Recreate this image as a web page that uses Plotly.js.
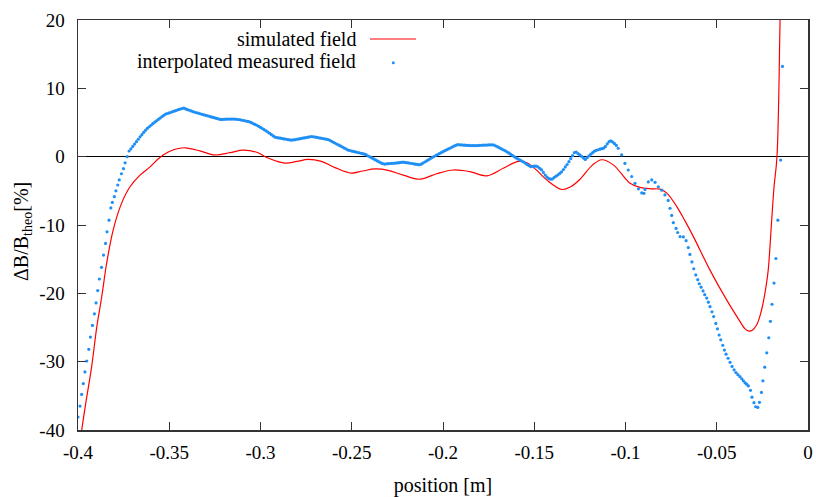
<!DOCTYPE html>
<html>
<head>
<meta charset="utf-8">
<script src="https://cdn.plot.ly/plotly-3.0.1.min.js"></script>
<style>
  html, body { margin: 0; padding: 0; background: #fff; }
  #chart { width: 816px; height: 497px; }
</style>
</head>
<body>
<div id="chart"></div>
<script>
// Simulated field deviation along the axis (position in m, deviation in %)
const simPos = [
  -0.3985, -0.3960, -0.3925, -0.3897, -0.3870, -0.3843, -0.3807, -0.3761, -0.3715, -0.3660,
  -0.3605, -0.3555, -0.3500, -0.3450, -0.3410, -0.3332, -0.3249, -0.3167, -0.3094, -0.3021,
  -0.2959, -0.2866, -0.2800, -0.2740, -0.2666, -0.2592, -0.2503, -0.2440, -0.2373, -0.2300,
  -0.2218, -0.2126, -0.2035, -0.1944, -0.1852, -0.1761, -0.1670, -0.1588, -0.1540, -0.1490,
  -0.1432, -0.1349, -0.1300, -0.1249, -0.1180, -0.1130, -0.1067, -0.0975, -0.0921, -0.0860,
  -0.0811, -0.0775, -0.0719, -0.0674, -0.0628, -0.0537, -0.0445, -0.0373, -0.0345, -0.0327,
  -0.0305, -0.0281, -0.0260, -0.0245, -0.0230, -0.0218, -0.0199, -0.0186, -0.0170, -0.0153,
  -0.0148
];
const simDelta = [
  -41.0, -36.5, -30.7, -24.9, -20.5, -15.6, -10.7, -6.8, -4.4, -2.7,
  -1.5, -0.2, 0.75, 1.2, 1.3, 0.85, 0.25, 0.6, 0.95, 0.65,
  -0.2, -0.95, -0.7, -0.4, -0.7, -1.6, -2.4, -2.1, -1.8, -2.0,
  -2.7, -3.3, -2.5, -1.95, -2.2, -2.8, -1.7, -0.7, -0.9, -1.9,
  -3.4, -4.8, -4.4, -3.3, -1.2, -0.45, -1.2, -3.9, -4.5, -4.7,
  -4.75, -5.3, -7.3, -9.4, -11.7, -16.6, -21.0, -24.1, -25.2, -25.5,
  -25.4, -24.6, -23.0, -21.3, -19.0, -16.6, -9.3, -4.4, 0.0, 20.0,
  26.0
];

// Interpolated measured field deviation (position in m, deviation in %)
const measPos = [
  // rising edge
  -0.4000, -0.3989, -0.3980, -0.3971, -0.3962, -0.3952, -0.3941, -0.3932, -0.3921, -0.3910,
  -0.3901, -0.3892, -0.3883, -0.3871, -0.3860, -0.3849, -0.3841, -0.3830, -0.3820, -0.3812,
  -0.3801, -0.3792, -0.3782, -0.3774, -0.3762, -0.3751, -0.3742, -0.3731, -0.3720,
  // plateau, 1 mm steps
  -0.371, -0.370, -0.369, -0.368, -0.367, -0.366, -0.365, -0.364, -0.363, -0.362,
  -0.361, -0.360, -0.359, -0.358, -0.357, -0.356, -0.355, -0.354, -0.353, -0.352,
  -0.351, -0.350, -0.349, -0.348, -0.347, -0.346, -0.345, -0.344, -0.343, -0.342,
  -0.341, -0.340, -0.339, -0.338, -0.337, -0.336, -0.335, -0.334, -0.333, -0.332,
  -0.331, -0.330, -0.329, -0.328, -0.327, -0.326, -0.325, -0.324, -0.323, -0.322,
  -0.321, -0.320, -0.319, -0.318, -0.317, -0.316, -0.315, -0.314, -0.313, -0.312,
  -0.311, -0.310, -0.309, -0.308, -0.307, -0.306, -0.305, -0.304, -0.303, -0.302,
  -0.301, -0.300, -0.299, -0.298, -0.297, -0.296, -0.295, -0.294, -0.293, -0.292,
  -0.291, -0.290, -0.289, -0.288, -0.287, -0.286, -0.285, -0.284, -0.283, -0.282,
  -0.281, -0.280, -0.279, -0.278, -0.277, -0.276, -0.275, -0.274, -0.273, -0.272,
  -0.271, -0.270, -0.269, -0.268, -0.267, -0.266, -0.265, -0.264, -0.263, -0.262,
  -0.261, -0.260, -0.259, -0.258, -0.257, -0.256, -0.255, -0.254, -0.253, -0.252,
  -0.251, -0.250, -0.249, -0.248, -0.247, -0.246, -0.245, -0.244, -0.243, -0.242,
  -0.241, -0.240, -0.239, -0.238, -0.237, -0.236, -0.235, -0.234, -0.233, -0.232,
  -0.231, -0.230, -0.229, -0.228, -0.227, -0.226, -0.225, -0.224, -0.223, -0.222,
  -0.221, -0.220, -0.219, -0.218, -0.217, -0.216, -0.215, -0.214, -0.213, -0.212,
  -0.211, -0.210, -0.209, -0.208, -0.207, -0.206, -0.205, -0.204, -0.203, -0.202,
  -0.201, -0.200, -0.199, -0.198, -0.197, -0.196, -0.195, -0.194, -0.193, -0.192,
  -0.191, -0.190, -0.189, -0.188, -0.187, -0.186, -0.185, -0.184, -0.183, -0.182,
  -0.181, -0.180, -0.179, -0.178, -0.177, -0.176, -0.175, -0.174, -0.173, -0.172,
  -0.171, -0.170, -0.169, -0.168, -0.167, -0.166, -0.165, -0.164, -0.163, -0.162,
  -0.161, -0.160, -0.159, -0.158, -0.157, -0.156, -0.155, -0.154, -0.153, -0.152,
  -0.151, -0.150, -0.149, -0.148, -0.147, -0.146, -0.145, -0.144, -0.143, -0.142,
  -0.141, -0.140, -0.139, -0.138, -0.137, -0.136, -0.135, -0.134, -0.133, -0.132,
  -0.131, -0.130, -0.129, -0.128, -0.127, -0.126, -0.125, -0.124, -0.123, -0.122,
  -0.121, -0.120, -0.119, -0.118, -0.117, -0.116, -0.115, -0.114, -0.113, -0.112,
  -0.111, -0.110, -0.109, -0.108, -0.107, -0.106, -0.105,
  // falling section towards the exit
  -0.1040, -0.1021, -0.1003, -0.0985, -0.0966, -0.0948, -0.0929, -0.0911, -0.0899, -0.0893,
  -0.0875, -0.0856, -0.0838, -0.0820, -0.0801, -0.0784, -0.0766, -0.0756, -0.0747, -0.0738,
  -0.0723, -0.0714, -0.0701, -0.0683, -0.0668, -0.0656, -0.0647, -0.0636, -0.0626, -0.0615,
  -0.0604, -0.0596, -0.0586, -0.0575, -0.0566, -0.0555, -0.0546, -0.0537, -0.0526, -0.0517,
  -0.0505, -0.0496, -0.0487, -0.0478, -0.0467, -0.0458, -0.0449, -0.0438, -0.0427, -0.0416,
  -0.0405, -0.0395, -0.0384, -0.0373, -0.0363, -0.0354, -0.0345, -0.0336, -0.0327, -0.0315,
  -0.0307, -0.0296, -0.0287, -0.0275, -0.0266, -0.0255, -0.0247, -0.0237, -0.0226, -0.0215,
  -0.0206, -0.0197, -0.0186, -0.0176, -0.0165, -0.0150, -0.0140
];
const measDelta = [
  -38.1, -36.5, -34.8, -33.2, -31.5, -29.9, -28.2, -26.4, -24.7, -23.0,
  -21.4, -19.6, -17.9, -16.2, -14.4, -12.7, -11.0, -9.3, -7.5, -6.7,
  -5.85, -5.0, -4.15, -3.4, -2.5, -1.75, -0.9, 0.0, 0.83,

  1.15, 1.5, 1.85, 2.2, 2.55, 2.9, 3.22, 3.55, 3.85, 4.15,
  4.38, 4.6, 4.83, 5.05, 5.25, 5.45, 5.65, 5.85, 6.05, 6.23,
  6.32, 6.4, 6.5, 6.6, 6.69, 6.78, 6.87, 6.96, 7.05, 7.1,
  6.98, 6.88, 6.79, 6.7, 6.6, 6.5, 6.43, 6.37, 6.28, 6.2,
  6.12, 6.05, 5.97, 5.9, 5.82, 5.75, 5.67, 5.6, 5.52, 5.45,
  5.46, 5.47, 5.49, 5.5, 5.5, 5.5, 5.5, 5.5, 5.47, 5.44,
  5.39, 5.33, 5.28, 5.22, 5.16, 5.1, 4.98, 4.85, 4.72, 4.6,
  4.44, 4.28, 4.12, 3.95, 3.78, 3.6, 3.41, 3.22, 3.03, 2.85,
  2.8, 2.75, 2.7, 2.65, 2.6, 2.55, 2.5, 2.45, 2.43, 2.45,
  2.5, 2.55, 2.6, 2.65, 2.7, 2.75, 2.8, 2.85, 2.9, 2.95,
  2.9, 2.86, 2.81, 2.76, 2.71, 2.66, 2.61, 2.56, 2.5, 2.39,
  2.25, 2.1, 1.96, 1.82, 1.68, 1.54, 1.4, 1.25, 1.11, 0.97,
  0.9, 0.82, 0.76, 0.7, 0.63, 0.57, 0.5, 0.44, 0.36, 0.25,
  0.1, -0.04, -0.19, -0.33, -0.48, -0.62, -0.77, -0.91, -1.02, -1.08,
  -1.05, -1.03, -1.0, -0.98, -0.96, -0.94, -0.91, -0.88, -0.84, -0.8,
  -0.84, -0.88, -0.92, -0.96, -1.0, -1.05, -1.1, -1.14, -1.18, -1.1,
  -0.94, -0.78, -0.62, -0.46, -0.3, -0.14, 0.02, 0.17, 0.31, 0.45,
  0.59, 0.73, 0.87, 1.0, 1.14, 1.27, 1.4, 1.54, 1.66, 1.75,
  1.74, 1.72, 1.7, 1.68, 1.66, 1.65, 1.63, 1.62, 1.62, 1.62,
  1.63, 1.65, 1.67, 1.68, 1.69, 1.7, 1.72, 1.73, 1.74, 1.7,
  1.56, 1.42, 1.28, 1.15, 1.01, 0.87, 0.71, 0.55, 0.37, 0.19,
  0.0, -0.18, -0.33, -0.47, -0.61, -0.75, -0.94, -1.13, -1.3, -1.45,
  -1.42, -1.39, -1.37, -1.5, -1.7, -1.93, -2.3, -2.7, -3.0, -3.22,
  -3.3, -3.25, -3.03, -2.85, -2.65, -2.45, -2.22, -1.88, -1.5, -1.15,
  -0.73, -0.3, 0.14, 0.6, 0.68, 0.44, 0.25, 0.03, -0.2, -0.4,
  -0.15, 0.13, 0.37, 0.59, 0.8, 0.93, 1.01, 1.09, 1.17, 1.24,
  1.5, 1.88, 2.2, 2.32, 2.13, 1.9, 1.64,

  1.23, 0.25, -0.97, -1.95, -2.9, -3.9, -4.7, -5.3, -5.36, -4.8,
  -3.7, -3.4, -3.75, -4.4, -4.9, -5.6, -6.4, -7.55, -8.6, -9.66,
  -10.5, -11.1, -11.7, -11.75, -12.3, -13.3, -14.3, -15.4, -16.4, -17.3,
  -18.0, -18.6, -19.1, -19.65, -20.2, -20.7, -21.3, -21.95, -22.7, -23.4,
  -24.4, -25.2, -26.1, -26.8, -27.6, -28.3, -28.9, -29.5, -30.1, -30.7,
  -31.2, -31.6, -31.9, -32.2, -32.5, -32.8, -33.1, -33.3, -33.55, -34.2,
  -35.2, -36.0, -36.6, -36.7, -35.95, -34.5, -32.8, -30.8, -28.7, -26.5,
  -24.1, -21.6, -18.5, -14.9, -9.3, -0.5, 13.2
];

// Axis ticks
const xTickVals = [-0.4, -0.35, -0.3, -0.25, -0.2, -0.15, -0.1, -0.05, 0];
const xTickText = ['-0.4', '-0.35', '-0.3', '-0.25', '-0.2', '-0.15', '-0.1', '-0.05', '0'];
const yTickVals = [-40, -30, -20, -10, 0, 10, 20];
const yTickText = ['-40', '-30', '-20', '-10', '0', '10', '20'];

const seriesNames = ['simulated field', 'interpolated measured field'];

const FONT = 'Liberation Serif, Times New Roman, serif';
const RED = '#ff0000';
const BLUE = '#1e8ff5';
const FRAME = '#333333';

const traces = [
  {
    x: simPos, y: simDelta, type: 'scatter', mode: 'lines', name: seriesNames[0],
    line: { color: RED, width: 1.2, shape: 'spline', smoothing: 1.0 },
    hoverinfo: 'skip'
  },
  {
    x: measPos, y: measDelta, type: 'scatter', mode: 'markers', name: seriesNames[1],
    marker: { color: BLUE, size: 3.2, symbol: 'circle', line: { width: 0 } },
    hoverinfo: 'skip'
  }
];

// Plot area in pixels: left 78, right 808, top 20, bottom 430
const L = 78, R = 808, T = 20, B = 430;
const px = v => (v - L) / (R - L);
const py = v => (B - v) / (B - T);

const layout = {
  width: 816, height: 497,
  margin: { l: L, r: 816 - R, t: T, b: 497 - B },
  paper_bgcolor: '#ffffff', plot_bgcolor: '#ffffff',
  showlegend: false,
  font: { family: FONT, size: 19, color: '#000' },
  xaxis: {
    range: [-0.4, 0], tickvals: xTickVals, ticktext: xTickText,
    ticks: 'inside', ticklen: 8, tickwidth: 1, tickcolor: FRAME,
    showline: true, linecolor: FRAME, linewidth: 1.5, mirror: 'allticks',
    showgrid: false, zeroline: false, ticklabelstandoff: 5,
    tickfont: { family: FONT, size: 19, color: '#000' },
    title: { text: 'position [m]', font: { family: FONT, size: 20, color: '#000' }, standoff: 17 }
  },
  yaxis: {
    range: [-40, 20], tickvals: yTickVals, ticktext: yTickText,
    ticks: 'inside', ticklen: 8, tickwidth: 1, tickcolor: FRAME,
    showline: true, linecolor: FRAME, linewidth: 1.5, mirror: 'allticks',
    showgrid: false, zeroline: true, zerolinecolor: '#000', zerolinewidth: 1.5,
    ticklabelstandoff: 8,
    tickfont: { family: FONT, size: 19, color: '#000' }
  },
  annotations: [
    {
      text: 'ΔB/B<sub>theo</sub>[%]', textangle: -90, showarrow: false,
      xref: 'paper', yref: 'paper', x: px(22), y: py(232),
      xanchor: 'center', yanchor: 'middle',
      font: { family: FONT, size: 20, color: '#000' }
    },
    {
      text: seriesNames[0], showarrow: false,
      xref: 'paper', yref: 'paper', x: px(358), y: py(39),
      xanchor: 'right', yanchor: 'middle',
      font: { family: FONT, size: 20, color: '#000' }
    },
    {
      text: seriesNames[1], showarrow: false,
      xref: 'paper', yref: 'paper', x: px(358), y: py(62),
      xanchor: 'right', yanchor: 'middle',
      font: { family: FONT, size: 20, color: '#000' }
    }
  ],
  shapes: [
    // key samples
    { type: 'line', xref: 'paper', yref: 'paper', x0: px(370), x1: px(416), y0: py(39), y1: py(39),
      line: { color: RED, width: 1.2 } },
    { type: 'circle', xref: 'paper', yref: 'paper', x0: px(391.8), x1: px(394.8), y0: py(61.2), y1: py(64.2),
      fillcolor: BLUE, line: { width: 0 } }
  ]
};

Plotly.newPlot('chart', traces, layout, { displayModeBar: false, staticPlot: true });
</script>
</body>
</html>
